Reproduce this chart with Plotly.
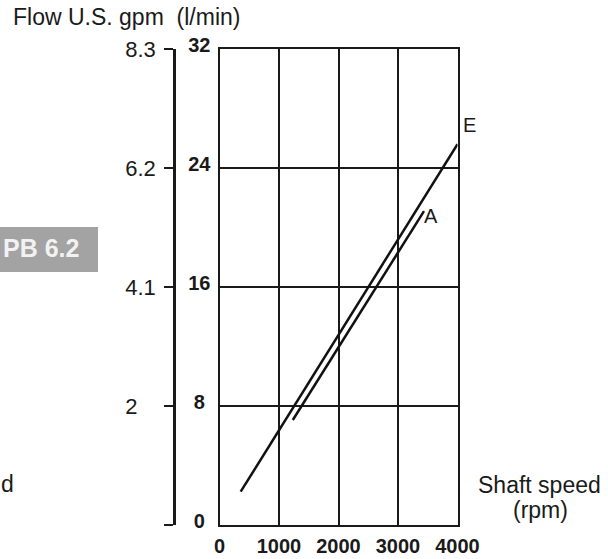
import plotly.graph_objects as go

# ---- data ----
speed_ticks = [0, 1000, 2000, 3000, 4000]
speed_tick_labels = ["0", "1000", "2000", "3000", "4000"]
flow_lpm_ticks = [0, 8, 16, 24, 32]
flow_lpm_labels = ["0\u00a0", "8\u00a0", "16", "24", "32"]
flow_gpm_labels = ["", "2\u00a0\u00a0\u00a0", "4.1", "6.2", "8.3"]

curve_E_speed = [356, 4000]
curve_E_flow = [2.24, 25.6]
curve_A_speed = [1232, 3437]
curve_A_flow = [7.06, 21.1]

W, H = 608, 559
FONT = "Liberation Sans, Arial, sans-serif"

def px_x(p):
    return p / W

def px_y(p):
    return 1 - p / H

fig = go.Figure()
fig.add_trace(go.Scatter(x=curve_E_speed, y=curve_E_flow, mode="lines",
                         line=dict(color="#111", width=2.5), showlegend=False))
fig.add_trace(go.Scatter(x=curve_A_speed, y=curve_A_flow, mode="lines",
                         line=dict(color="#111", width=2.5), showlegend=False))
# dummy trace for the gpm axis
fig.add_trace(go.Scatter(x=[None], y=[None], yaxis="y2", showlegend=False))

fig.update_layout(
    width=W, height=H, autosize=False,
    margin=dict(l=0, r=0, t=0, b=0, pad=0),
    paper_bgcolor="white", plot_bgcolor="white",
    font=dict(family=FONT, color="#1a1a1a"),
    xaxis=dict(
        domain=[px_x(219.5), px_x(457.5)], range=[0, 4000],
        tickvals=speed_ticks, ticktext=speed_tick_labels,
        showgrid=True, gridcolor="#1a1a1a", gridwidth=1.5,
        showline=True, linecolor="#1a1a1a", linewidth=2, mirror=True,
        zeroline=False, ticks="", automargin=False,
        tickfont=dict(family=FONT, size=20, color="#1a1a1a", weight="bold"),
        ticklabelstandoff=2,
    ),
    yaxis=dict(
        domain=[1 - 525 / H, 1 - 49 / H], range=[0, 32],
        tickvals=flow_lpm_ticks, ticktext=flow_lpm_labels,
        showgrid=True, gridcolor="#1a1a1a", gridwidth=1.5,
        showline=True, linecolor="#1a1a1a", linewidth=2, mirror=True,
        zeroline=False, ticks="", automargin=False,
        tickfont=dict(family=FONT, size=20, color="#1a1a1a", weight="bold"),
        ticklabelstandoff=3, ticklabelshift=-4,
    ),
    yaxis2=dict(
        overlaying="y", anchor="free", position=px_x(174), side="left",
        range=[0, 32], tickvals=flow_lpm_ticks, ticktext=flow_gpm_labels,
        showgrid=False, zeroline=False, automargin=False,
        showline=True, linecolor="#1a1a1a", linewidth=2.5,
        ticks="outside", ticklen=9, tickwidth=1.5, tickcolor="#1a1a1a",
        tickfont=dict(family=FONT, size=22, color="#1a1a1a"),
        ticklabelstandoff=4,
    ),
)

# curve labels
fig.add_annotation(x=curve_E_speed[-1], y=curve_E_flow[-1], text="E",
                   xref="x", yref="y", showarrow=False, xanchor="left",
                   yanchor="middle", xshift=3, yshift=19,
                   font=dict(family=FONT, size=20, color="#1a1a1a"))
fig.add_annotation(x=curve_A_speed[-1], y=curve_A_flow[-1], text="A",
                   xref="x", yref="y", showarrow=False, xanchor="left",
                   yanchor="middle", xshift=-2, yshift=-5,
                   font=dict(family=FONT, size=20, color="#1a1a1a"))

# titles
fig.add_annotation(x=px_x(11), y=px_y(17), xref="paper", yref="paper",
                   text="Flow U.S. gpm&nbsp;&nbsp;(l/min)", showarrow=False,
                   xanchor="left", yanchor="middle",
                   font=dict(family=FONT, size=23, color="#1a1a1a"))
fig.add_annotation(x=px_x(539), y=px_y(485), xref="paper", yref="paper",
                   text="Shaft speed", showarrow=False,
                   xanchor="center", yanchor="middle",
                   font=dict(family=FONT, size=23, color="#1a1a1a"))
fig.add_annotation(x=px_x(540), y=px_y(510), xref="paper", yref="paper",
                   text="(rpm)", showarrow=False,
                   xanchor="center", yanchor="middle",
                   font=dict(family=FONT, size=23, color="#1a1a1a"))

# fragments visible in the source picture
fig.add_shape(type="rect", xref="paper", yref="paper",
              x0=0, x1=px_x(98), y0=px_y(272), y1=px_y(227),
              fillcolor="#a3a3a3", line=dict(width=0), layer="below")
fig.add_annotation(x=px_x(1), y=px_y(248), xref="paper", yref="paper",
                   text="PB 6.2", showarrow=False, xanchor="left",
                   yanchor="middle",
                   font=dict(family=FONT, size=25, color="#f2f2f2", weight="bold"))
fig.add_annotation(x=px_x(-1), y=px_y(484), xref="paper", yref="paper",
                   text="d", showarrow=False, xanchor="left", yanchor="middle",
                   font=dict(family=FONT, size=23, color="#1a1a1a"))

fig.write_html("out.html", include_plotlyjs=True,
               default_width="608px", default_height="559px",
               config={"displayModeBar": False, "responsive": False},
               post_script="document.body.style.margin='0';document.body.style.overflow='hidden';")
